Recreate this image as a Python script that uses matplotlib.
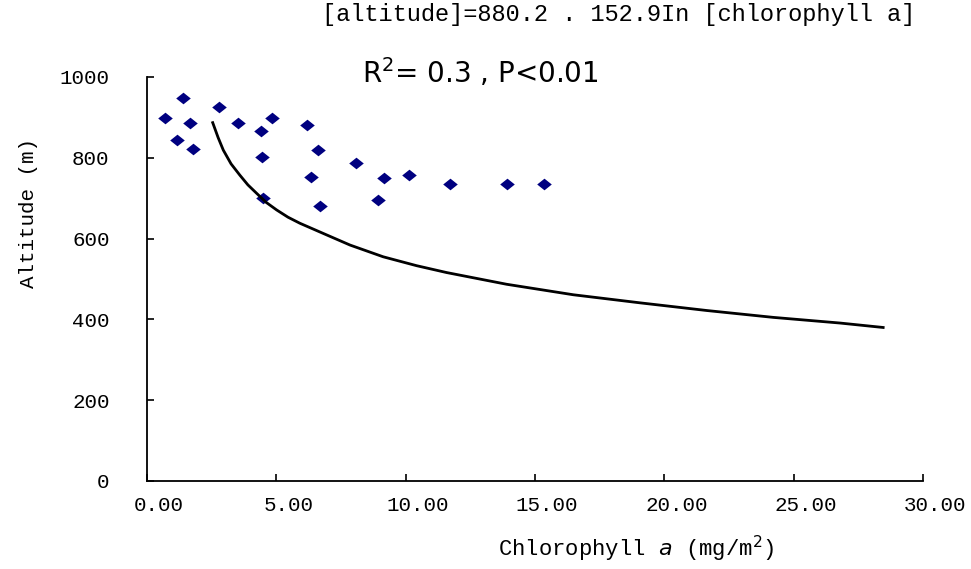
import matplotlib
matplotlib.use("Agg")
import matplotlib.pyplot as plt
import matplotlib.transforms as mtransforms

# observed points (chlorophyll a, altitude)
chl = [0.70, 1.40, 1.66, 1.15, 1.79, 2.78, 3.53, 4.82, 4.40, 4.43, 4.50,
       6.17, 6.62, 6.33, 6.69, 8.08, 9.17, 10.14, 8.94, 11.71, 13.90, 15.36]
alt = [898, 947, 885, 844, 821, 926, 885, 898, 867, 801, 700,
       881, 819, 753, 681, 786, 749, 757, 696, 735, 735, 735]

# fitted log curve as drawn
fit_x = [2.54, 2.75, 2.95, 3.25, 3.59, 3.90, 4.24, 4.60, 5.01, 5.45, 5.91,
         6.95, 7.85, 9.13, 10.42, 11.58, 13.90, 16.48, 19.06, 21.64, 24.21,
         26.79, 28.46]
fit_y = [887, 850, 819, 785, 757, 733, 712, 690, 671, 653, 638,
         609, 584, 555, 533, 516, 487, 461, 441, 422, 405, 391, 380]

xticks = [0, 5, 10, 15, 20, 25, 30]
xlabels = ["0.00", "5.00", "10.00", "15.00", "20.00", "25.00", "30.00"]
yticks = [0, 200, 400, 600, 800, 1000]

mono = "Liberation Mono"

fig = plt.figure(figsize=(9.71, 5.69), dpi=100)
ax = fig.add_axes([147/971, 1-481/569, 776/971, 404/569])

diamond = [(-1, 0), (0, 0.8), (1, 0), (0, -0.8), (-1, 0)]
ax.plot(chl, alt, linestyle="none", marker=diamond, markersize=10.5,
        color="#000080", markeredgewidth=0)
ax.plot(fit_x, fit_y, color="black", linewidth=2.0)

ax.set_xlim(0, 30)
ax.set_ylim(0, 1000)
ax.set_xticks(xticks)
ax.set_xticklabels(xlabels, fontfamily=mono, fontsize=15)
ax.set_yticks(yticks)
ax.set_yticklabels([str(v) for v in yticks], fontfamily=mono, fontsize=15)
ax.tick_params(axis="x", direction="in", length=5, width=1.2, pad=11)
ax.tick_params(axis="y", direction="in", length=5, width=1.2, pad=27)

off = mtransforms.ScaledTranslation(0.12, 0, fig.dpi_scale_trans)
for lab in ax.get_xticklabels():
    lab.set_transform(lab.get_transform() + off)

for s in ["top", "right"]:
    ax.spines[s].set_visible(False)
for s in ["left", "bottom"]:
    ax.spines[s].set_linewidth(1.3)

ax.set_xlabel(r"Chlorophyll $\it{a}$ (mg/m$^2$)", fontfamily=mono, fontsize=16)
ax.xaxis.set_label_coords(0.631, -0.130)
ax.set_ylabel("Altitude (m)", fontfamily=mono, fontsize=15)
ax.yaxis.set_label_coords(-0.140, 0.663)

fig.text(915/971, 1-15/569, "[altitude]=880.2 . 152.9In [chlorophyll a]",
         fontfamily=mono, fontsize=17, ha="right", va="center")
fig.text(362/971, 1-73/569, r"R$^2$= 0.3 , P<0.01",
         fontfamily="DejaVu Sans", fontsize=20, ha="left", va="center")

fig.savefig("out.png", dpi=100)
